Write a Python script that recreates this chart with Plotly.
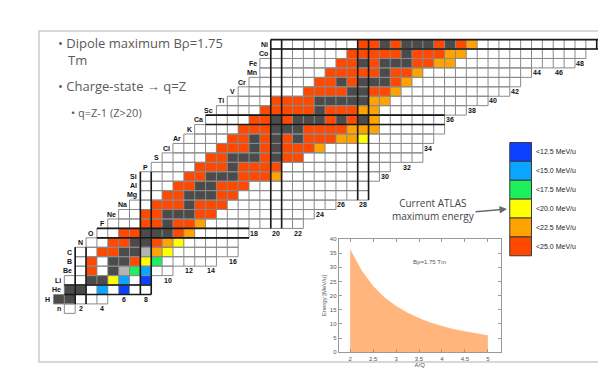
import re
import plotly.graph_objects as go

# ---------------- data ----------------
ELEMENTS = ["n", "H", "He", "Li", "Be", "B", "C", "N", "O", "F", "Ne", "Na", "Mg", "Al", "Si",
            "P", "S", "Cl", "Ar", "K", "Ca", "Sc", "Ti", "V", "Cr", "Mn", "Fe", "Co", "Ni"]
# first neutron number shown in each row (Z = 0 .. 28)
ROW_NMIN = [1, 0, 1, 1, 2, 2, 2, 3, 4, 5, 6, 7, 8, 8, 8, 9, 10, 11, 12, 13, 14, 15, 16, 17, 18, 19, 19, 20, 20]
# cell categories along each row (run-length: letter + count)
# W empty, D stable, L long-lived, R <25, O <22.5, Y <20, G <17.5, C <15, B <12.5 MeV/u
ROW_RUNS = [
    "W1",
    "D2W3",
    "D2W1C1W1B1W2",
    "W2D2Y1C1W1B1",
    "W1R1W1D1L1G1C1W2",
    "W1R1W1D2R1Y1G1W5",
    "W2R2D2L1O1Y1W6",
    "W2R2D2R1O1Y1W5",
    "W2R2D3R1O1W5",
    "W3R2D1R2O1W9",
    "W2R2D3R2W9",
    "W2R3D1R3W10",
    "W2R2D3R2W12",
    "W3R2D2R3W11",
    "W4R2D3R3O1W9",
    "W4R3D1R4W10",
    "W4R2D3R1D1R2W11",
    "W4R3D1R1D1R3O1W9",
    "W4R2D1R1D1R1D1R3O2Y1W6",
    "W4R3D3R4O3W6",
    "W4R2D1R1D3R1D1R1D1O1W6",
    "W4R5D1R3O2W8",
    "W4R4D5O2W9",
    "W6R4D2R2O1W10",
    "W6R2D1R1D3R1O1W10",
    "W6R5D1R2O1W10",
    "W7R2D1R1D3R2O2W11",
    "W7R5D1R3O2W11",
    "W8R2D1R1D3R1D1R1O1W12",
]
MAGIC_NUMBERS = [2, 8, 20, 28, 50]
N_TICK_LABELS = list(range(2, 51, 2))

CATEGORIES = ["W", "D", "L", "R", "O", "Y", "G", "C", "B"]
CATEGORY_COLORS = ["#ffffff", "#4b4b4b", "#b4b4b4", "#ff4800", "#ffa300",
                   "#ffff00", "#1eef5c", "#0aa6ff", "#0a42ff"]

LEGEND_KEYS = ["B", "C", "G", "Y", "O", "R"]
LEGEND_LABELS = ["<12.5 MeV/u", "<15.0 MeV/u", "<17.5 MeV/u",
                 "<20.0 MeV/u", "<22.5 MeV/u", "<25.0 MeV/u"]

# inset: maximum energy vs A/Q for B-rho = 1.75 Tm
AQ = [2.0, 2.25, 2.5, 2.75, 3.0, 3.25, 3.5, 3.75, 4.0, 4.25, 4.5, 4.75, 5.0]
E_MAX = [36.2, 28.8, 23.3, 19.3, 16.3, 13.9, 12.0, 10.4, 9.2, 8.1, 7.3, 6.5, 5.9]

BULLETS = ["\u2022 Dipole maximum B\u03c1=1.75", "Tm", "\u2022 Charge-state \u2192 q=Z", "\u2022 q=Z-1 (Z>20)"]

# ---------------- layout geometry ----------------
W, H = 606, 368
ML, MR, MT, MB = 2, 1, 8, 6
PW, PH = W - ML - MR, H - MT - MB


def px(x):
    return (x - ML) / PW


def py(y):
    return (H - MB - y) / PH


# ---------------- build cells ----------------
rows = []
for Z, runs in enumerate(ROW_RUNS):
    cats = "".join(c * int(n) for c, n in re.findall(r"([A-Z])(\d+)", runs))
    rows.append(cats)
row_range = [(ROW_NMIN[Z], ROW_NMIN[Z] + len(rows[Z]) - 1) for Z in range(len(rows))]
NMAX_ALL = max(b for a, b in row_range)

zgrid = [[None] * (NMAX_ALL + 1) for _ in rows]
for Z, cats in enumerate(rows):
    for i, c in enumerate(cats):
        zgrid[Z][ROW_NMIN[Z] + i] = CATEGORIES.index(c)

ncat = len(CATEGORIES)
colorscale = []
for i, col in enumerate(CATEGORY_COLORS):
    colorscale.append([i / ncat, col])
    colorscale.append([(i + 1) / ncat, col])

fig = go.Figure()
fig.add_trace(go.Heatmap(
    x=list(range(NMAX_ALL + 1)), y=list(range(len(rows))), z=zgrid,
    colorscale=colorscale, zmin=-0.5, zmax=ncat - 0.5, showscale=False,
    hoverinfo="skip"))

# thin cell borders
gx, gy = [], []
for Z, (a, b) in enumerate(row_range):
    for yy in (Z - 0.5, Z + 0.5):
        gx += [a - 0.5, b + 0.5, None]
        gy += [yy, yy, None]
    for N in range(a, b + 2):
        gx += [N - 0.5, N - 0.5, None]
        gy += [Z - 0.5, Z + 0.5, None]
fig.add_trace(go.Scatter(x=gx, y=gy, mode="lines", line=dict(color="#8a8a8a", width=1),
                         hoverinfo="skip", showlegend=False))

# thick magic-number lines
tx, ty = [], []
for m in MAGIC_NUMBERS:
    if m < len(rows):
        a, b = row_range[m]
        for yy in (m - 0.5, m + 0.5):
            tx += [a - 0.5, b + 0.5, None]
            ty += [yy, yy, None]
    zs = [Z for Z, (a, b) in enumerate(row_range) if a <= m <= b]
    if zs:
        for xx in (m - 0.5, m + 0.5):
            tx += [xx, xx, None]
            ty += [min(zs) - 0.5, max(zs) + 0.5, None]
fig.add_trace(go.Scatter(x=tx, y=ty, mode="lines", line=dict(color="#1a1a1a", width=1.6),
                         hoverinfo="skip", showlegend=False))

annotations = []
# element labels
for Z, sym in enumerate(ELEMENTS):
    annotations.append(dict(x=ROW_NMIN[Z] - 0.5, y=Z, xref="x", yref="y", text="<b>%s</b>" % sym,
                            showarrow=False, xanchor="right", yanchor="middle", xshift=-1,
                            font=dict(family="Arial", size=7, color="#111")))
# neutron-number labels below each column
for N in N_TICK_LABELS:
    zs = [Z for Z, (a, b) in enumerate(row_range) if a <= N <= b]
    annotations.append(dict(x=N, y=min(zs) - 1, xref="x", yref="y", text="<b>%d</b>" % N,
                            showarrow=False, xanchor="center", yanchor="middle",
                            font=dict(family="Arial", size=7, color="#111")))

shapes = []
# legend boxes
for i, (key, lab) in enumerate(zip(LEGEND_KEYS, LEGEND_LABELS)):
    top = 17.6 - 2 * i
    shapes.append(dict(type="rect", xref="x", yref="y", x0=41.5, x1=43.5, y0=top - 2, y1=top,
                       fillcolor=CATEGORY_COLORS[CATEGORIES.index(key)],
                       line=dict(color="#3a3a3a", width=1)))
    annotations.append(dict(x=43.7, y=top - 1, xref="x", yref="y", text=lab, showarrow=False,
                            xanchor="left", yanchor="middle",
                            font=dict(family="Arial", size=7, color="#222")))

# slide frame
shapes.append(dict(type="rect", xref="paper", yref="paper", x0=px(31), x1=px(603),
                   y0=py(354), y1=py(23), line=dict(color="#cccccc", width=1.5),
                   fillcolor="rgba(0,0,0,0)", layer="below"))

# bullet texts
bullet_pos = [(48, 35, 13), (58, 52, 13), (48, 78, 13), (61, 105, 11)]
for txt, (bx, by, fs) in zip(BULLETS, bullet_pos):
    annotations.append(dict(x=px(bx), y=py(by), xref="paper", yref="paper", text=txt,
                            showarrow=False, xanchor="left", yanchor="middle",
                            font=dict(family="Open Sans", size=fs, color="#5a5a5a")))

# ATLAS annotation + arrow
annotations.append(dict(x=px(425), y=py(202), xref="paper", yref="paper",
                        text="Current ATLAS<br>maximum energy", showarrow=False,
                        xanchor="center", yanchor="middle",
                        font=dict(family="Open Sans", size=10, color="#444")))
annotations.append(dict(x=px(499), y=py(201), xref="paper", yref="paper", text="",
                        showarrow=True, ax=-33, ay=3, arrowhead=2, arrowsize=1,
                        arrowwidth=1.5, arrowcolor="#6a6a6a"))

# inset curve
fig.add_trace(go.Scatter(x=AQ, y=E_MAX, mode="lines", fill="tozeroy",
                         fillcolor="#ffb57c", line=dict(color="#ffb57c", width=0.5),
                         xaxis="x2", yaxis="y2", hoverinfo="skip", showlegend=False))
annotations.append(dict(x=3.73, y=32, xref="x2", yref="y2", text="B\u03c1=1.75 Tm",
                        showarrow=False, font=dict(family="Arial", size=6, color="#555")))

inset_axis = dict(showline=True, mirror="ticks", linecolor="#9a9a9a", linewidth=1,
                  ticks="inside", ticklen=3, tickcolor="#9a9a9a", showgrid=False,
                  zeroline=False, tickfont=dict(family="Arial", size=6, color="#555"),
                  automargin=False)

fig.update_layout(
    width=W, height=H,
    margin=dict(l=ML, r=MR, t=MT, b=MB, autoexpand=False),
    paper_bgcolor="white", plot_bgcolor="white",
    showlegend=False,
    xaxis=dict(range=[-4.5, 51.0], visible=False, domain=[0, 1], automargin=False),
    yaxis=dict(range=[-6.5, 31.0], visible=False, domain=[0, 1], automargin=False),
    xaxis2=dict(inset_axis, domain=[px(330.7), px(492.7)], range=[1.75, 5.28], anchor="y2",
                tickvals=[2, 2.5, 3, 3.5, 4, 4.5, 5],
                title=dict(text="A/Q", font=dict(family="Arial", size=6, color="#555"), standoff=2)),
    yaxis2=dict(inset_axis, domain=[py(344.3), py(231)], range=[0, 40], anchor="x2", dtick=5,
                title=dict(text="Energy [MeV/u]", font=dict(family="Arial", size=6, color="#555"),
                           standoff=2)),
    annotations=annotations,
    shapes=shapes,
)

fig.write_html("out.html")
